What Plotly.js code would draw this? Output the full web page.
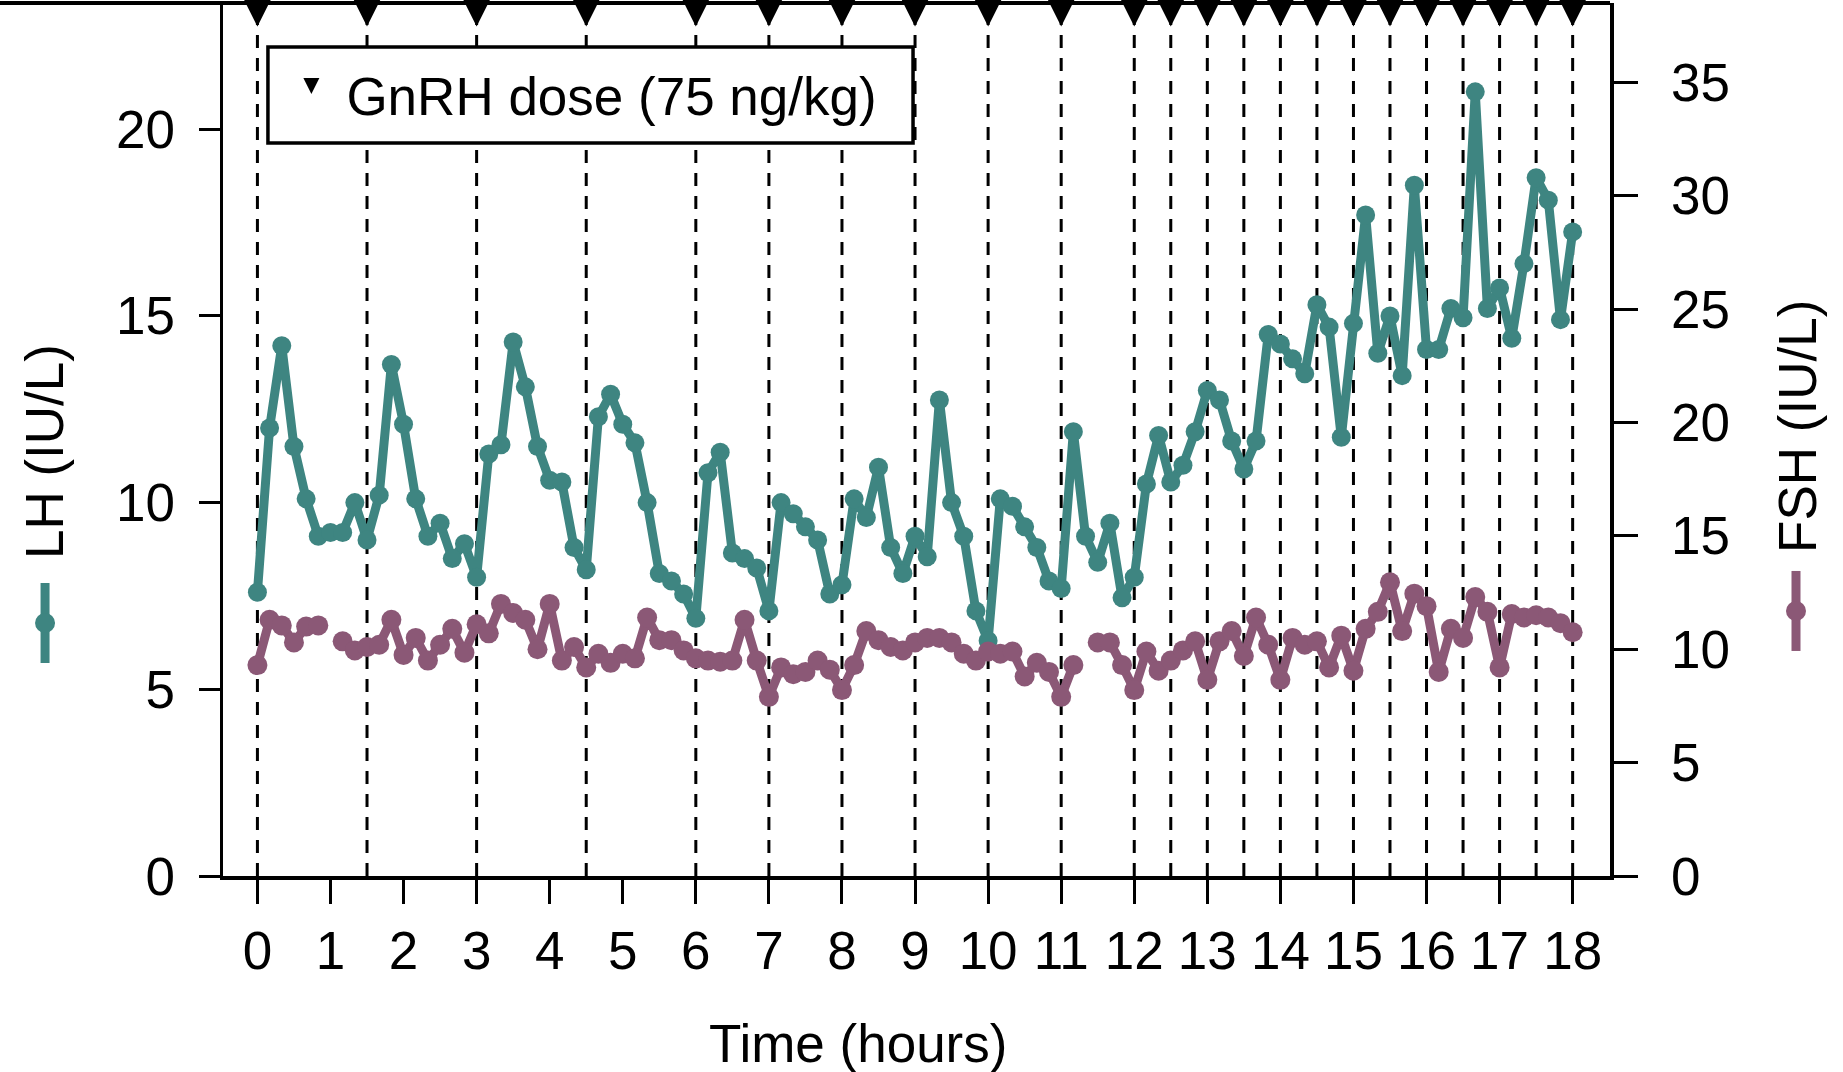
<!DOCTYPE html>
<html><head><meta charset="utf-8">
<script src="https://cdn.plot.ly/plotly-3.0.1.min.js"></script>
<style>html,body{margin:0;padding:0;background:#fff}#chart{width:1843px;height:1072px}</style>
</head><body><div id="chart"></div>
<script>
// ---- data ----
const timeMinutes = [0,10,20,30,40,50,60,70,80,90,100,110,120,130,140,150,160,170,180,190,200,210,220,230,240,250,260,270,280,290,300,310,320,330,340,350,360,370,380,390,400,410,420,430,440,450,460,470,480,490,500,510,520,530,540,550,560,570,580,590,600,610,620,630,640,650,660,670,680,690,700,710,720,730,740,750,760,770,780,790,800,810,820,830,840,850,860,870,880,890,900,910,920,930,940,950,960,970,980,990,1000,1010,1020,1030,1040,1050,1060,1070,1080];
const lhValues = [7.6,12.0,14.2,11.5,10.1,9.1,
 9.2,9.2,10.0,9.0,10.2,13.7,
 12.1,10.1,9.1,9.45,8.5,8.9,
 8.0,11.3,11.55,14.3,13.1,11.5,
 10.6,10.55,8.8,8.2,12.3,12.9,
 12.1,11.6,10.0,8.1,7.9,7.55,
 6.9,10.8,11.35,8.65,8.5,8.25,
 7.1,10.0,9.7,9.35,9.0,7.55,
 7.8,10.1,9.6,10.95,8.8,8.1,
 9.1,8.55,12.75,10.0,9.1,7.1,
 6.3,10.1,9.9,9.35,8.8,7.9,
 7.7,11.9,9.1,8.4,9.45,7.45,
 8.0,10.5,11.8,10.55,11.0,11.9,
 13.0,12.75,11.65,10.9,11.65,14.5,
 14.25,13.85,13.45,15.3,14.7,11.75,
 14.8,17.7,14.0,15.0,13.4,18.5,
 14.1,14.1,15.2,14.95,21.0,15.2,
 15.75,14.4,16.4,18.7,18.1,14.9,
 17.25];
const fshValues = [9.3,11.3,11.05,10.3,11.0,11.05,
 null,10.35,9.95,10.1,10.2,11.3,
 9.75,10.5,9.5,10.2,10.9,9.85,
 11.1,10.7,12.0,11.6,11.3,10.0,
 12.0,9.5,10.1,9.2,9.8,9.4,
 9.8,9.6,11.4,10.4,10.4,9.95,
 9.6,9.5,9.45,9.5,11.3,9.5,
 7.9,9.2,8.9,9.0,9.5,9.1,
 8.2,9.3,10.8,10.4,10.1,9.95,
 10.3,10.5,10.5,10.3,9.8,9.5,
 9.9,9.8,9.9,8.8,9.4,9.0,
 7.9,9.3,null,10.3,10.3,9.3,
 8.2,9.9,9.05,9.5,9.95,10.35,
 8.65,10.35,10.8,9.7,11.4,10.2,
 8.65,10.5,10.2,10.35,9.2,10.6,
 9.05,10.9,11.65,12.95,10.8,12.45,
 11.9,9.0,10.9,10.5,12.3,11.65,
 9.2,11.55,11.4,11.5,11.4,11.15,
 10.75];
const doseHours = [0,1.5,3,4.5,6,7,8,9,10,11,12,12.5,13,13.5,14,14.5,15,15.5,16,16.5,17,17.5,18];
const xTickVals = [0,1,2,3,4,5,6,7,8,9,10,11,12,13,14,15,16,17,18];
const xTickLabels = ['0','1','2','3','4','5','6','7','8','9','10','11','12','13','14','15','16','17','18'];
const lhTicks = [0,5,10,15,20];
const fshTicks = [0,5,10,15,20,25,30,35];
const doseLabel = 'GnRH dose (75 ng/kg)';

// ---- styling ----
const LH_COLOR = '#3e8581';
const FSH_COLOR = '#8b5876';
const FONT = 'Liberation Sans, Arial, Helvetica, sans-serif';
const FS = 53;
const LH_RANGE = [0, 23.38];
const FSH_RANGE = [0, 38.5];
const DOSE_MARK_Y = 22.75;

const hours = timeMinutes.map(m => m / 60);

const traces = [
  {x: hours, y: lhValues, type: 'scatter', mode: 'lines+markers', name: 'LH',
   line: {color: LH_COLOR, width: 9}, marker: {color: LH_COLOR, size: 19},
   showlegend: false, yaxis: 'y', connectgaps: false},
  {x: hours, y: fshValues, type: 'scatter', mode: 'lines+markers', name: 'FSH',
   line: {color: FSH_COLOR, width: 9}, marker: {color: FSH_COLOR, size: 20},
   showlegend: false, yaxis: 'y2', connectgaps: false},
  {x: doseHours, y: doseHours.map(() => DOSE_MARK_Y), type: 'scatter', mode: 'markers',
   name: doseLabel, marker: {symbol: 'arrow-down', size: 34, color: '#000'},
   cliponaxis: false, showlegend: true, yaxis: 'y'}
];

const shapes = doseHours.map(h => ({
  type: 'line', xref: 'x', yref: 'paper', x0: h, x1: h, y0: 0, y1: 1,
  line: {color: '#000', width: 3, dash: '13px,10px'}, layer: 'below'
}));
// legend frame
shapes.push({type: 'rect', xref: 'paper', yref: 'paper', x0: 0.0324, x1: 0.4975, y0: 0.8396, y1: 0.9496,
  fillcolor: '#fff', line: {color: '#000', width: 3.5}, layer: 'below'});
shapes.push({type: 'line', xref: 'paper', yref: 'paper', x0: -0.161, x1: 1.0, y0: 1, y1: 1,
  line: {color: '#000', width: 4}});
function glyph(xa, ya, color) {
  return [
    {type: 'line', xref: 'paper', yref: 'paper', xsizemode: 'pixel', ysizemode: 'pixel',
     xanchor: xa, yanchor: ya, x0: 0, x1: 0, y0: -40, y1: 40, line: {color: color, width: 9}},
    {type: 'circle', xref: 'paper', yref: 'paper', xsizemode: 'pixel', ysizemode: 'pixel',
     xanchor: xa, yanchor: ya, x0: -10, x1: 10, y0: -10, y1: 10, fillcolor: color,
     line: {color: color, width: 0}}
  ];
}
shapes.push(...glyph(-0.1283, 0.2898, LH_COLOR));
shapes.push(...glyph(1.1341, 0.3036, FSH_COLOR));

const axisCommon = {
  showline: true, linecolor: '#000', linewidth: 3.5, ticks: 'outside', tickcolor: '#000',
  tickwidth: 3, showgrid: false, zeroline: false,
  tickfont: {family: FONT, size: FS, color: '#000'}
};

const layout = {
  width: 1843, height: 1072,
  margin: {l: 223, r: 233, t: 3, b: 196},
  paper_bgcolor: '#fff', plot_bgcolor: '#fff',
  font: {family: FONT, size: FS, color: '#000'},
  xaxis: Object.assign({}, axisCommon, {range: [-0.471, 18.511], tickvals: xTickVals,
    ticktext: xTickLabels, ticklen: 24, ticklabelstandoff: 2}),
  yaxis: Object.assign({}, axisCommon, {range: LH_RANGE, tickvals: lhTicks, ticklen: 21,
    ticklabelstandoff: 13}),
  yaxis2: Object.assign({}, axisCommon, {range: FSH_RANGE, tickvals: fshTicks, ticklen: 24,
    overlaying: 'y', side: 'right', ticklabelstandoff: 23}),
  showlegend: true,
  legend: {x: 0.0385, y: 0.9427, xanchor: 'left', yanchor: 'top', bgcolor: 'rgba(0,0,0,0)',
    borderwidth: 0, font: {family: FONT, size: FS, color: '#000'},
    itemwidth: 60},
  shapes: shapes,
  annotations: [
    {text: 'Time (hours)', xref: 'paper', yref: 'paper', x: 0.458, y: -0.1924,
     xanchor: 'center', yanchor: 'middle', showarrow: false, font: {family: FONT, size: FS, color: '#000'}},
    {text: 'LH (IU/L)', xref: 'paper', yref: 'paper', x: -0.1283, y: 0.4857, textangle: -90,
     xanchor: 'center', yanchor: 'middle', showarrow: false, font: {family: FONT, size: FS, color: '#000'}},
    {text: 'FSH (IU/L)', xref: 'paper', yref: 'paper', x: 1.1355, y: 0.5155, textangle: -90,
     xanchor: 'center', yanchor: 'middle', showarrow: false, font: {family: FONT, size: FS, color: '#000'}}
  ]
};

Plotly.newPlot('chart', traces, layout, {displayModeBar: false, staticPlot: true});
</script>
</body></html>
